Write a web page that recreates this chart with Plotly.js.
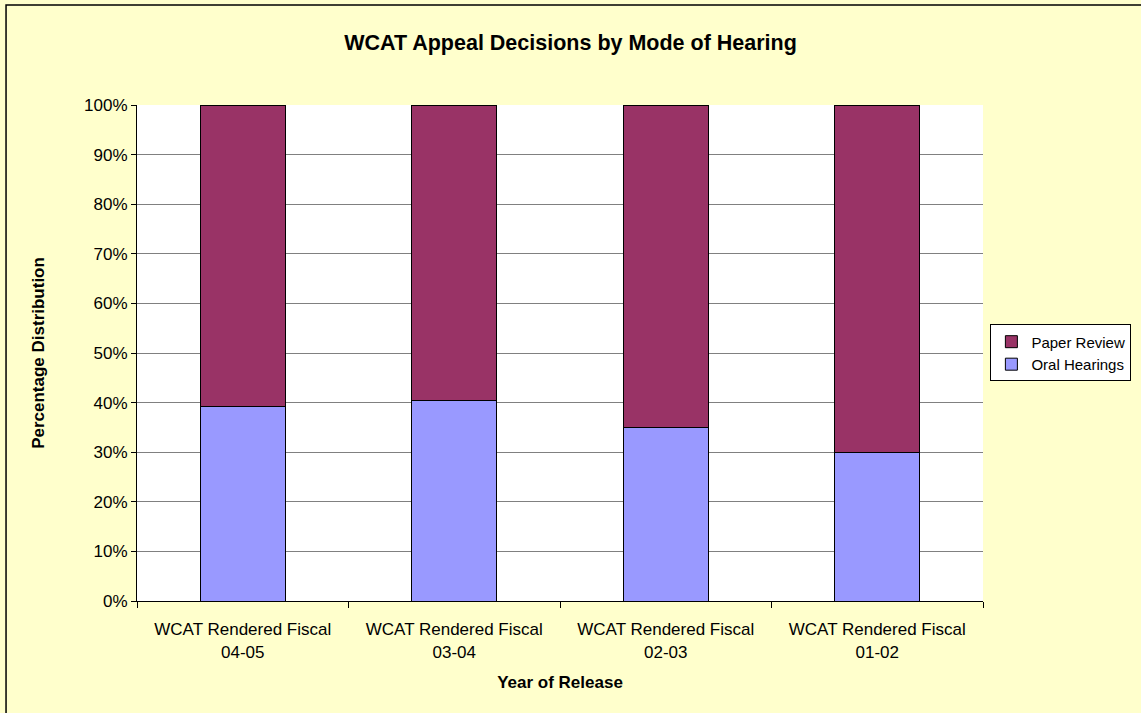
<!DOCTYPE html>
<html>
<head>
<meta charset="utf-8">
<script src="https://cdn.plot.ly/plotly-3.0.1.min.js"></script>
<style>
  body { margin: 0; background: #FFFFCC; }
  #chart { width: 1141px; height: 713px; }
</style>
</head>
<body>
<div id="chart"></div>
<script>
// categories and values (percent)
var years = ["WCAT Rendered Fiscal<br>04-05", "WCAT Rendered Fiscal<br>03-04",
             "WCAT Rendered Fiscal<br>02-03", "WCAT Rendered Fiscal<br>01-02"];
var oralHearings = [39.3, 40.4, 35.0, 30.0];
var paperReview = [60.7, 59.6, 65.0, 70.0];

var trace1 = {
  x: years,
  y: oralHearings,
  name: "Oral Hearings",
  type: "bar",
  marker: {color: "#9999FF", line: {color: "#000000", width: 1}},
  hoverinfo: "y+name"
};

var trace2 = {
  x: years,
  y: paperReview,
  name: "Paper Review",
  type: "bar",
  marker: {color: "#993366", line: {color: "#000000", width: 1}},
  hoverinfo: "y+name"
};

var layout = {
  width: 1141,
  height: 713,
  barmode: "stack",
  bargap: 0.6,
  paper_bgcolor: "#FFFFCC",
  plot_bgcolor: "#FFFFFF",
  font: {family: "Arial, Liberation Sans, sans-serif", size: 17, color: "#000000"},
  title: {
    text: "<b>WCAT Appeal Decisions by Mode of Hearing</b>",
    font: {size: 21.5},
    x: 0.5, xanchor: "center",
    y: 0.94, yanchor: "middle"
  },
  margin: {l: 137, r: 158, t: 105, b: 112},
  xaxis: {
    title: {text: "<b>Year of Release</b>", font: {size: 17}, standoff: 15},
    tickson: "boundaries",
    ticks: "outside",
    ticklen: 6,
    tickcolor: "#000000",
    ticklabelstandoff: 13,
    showline: true,
    linecolor: "#000000",
    linewidth: 1,
    showgrid: false,
    tickfont: {size: 17}
  },
  yaxis: {
    title: {text: "<b>Percentage Distribution</b>", font: {size: 17}, standoff: 35},
    range: [0, 100],
    dtick: 10,
    ticksuffix: "%",
    ticks: "outside",
    ticklen: 5,
    tickcolor: "#000000",
    showline: true,
    linecolor: "#000000",
    linewidth: 1,
    gridcolor: "#808080",
    gridwidth: 1,
    zeroline: false,
    tickfont: {size: 17}
  },
  legend: {
    xref: "container", yref: "container",
    x: 0.868, xanchor: "left",
    y: 0.505, yanchor: "middle",
    bgcolor: "#FFFFFF",
    bordercolor: "#000000",
    borderwidth: 1,
    font: {size: 15},
    itemwidth: 30,
    traceorder: "reversed"
  },
  shapes: [{
    type: "rect", xref: "paper", yref: "paper",
    x0: -0.1548, x1: 1.19, y0: -0.25, y1: 1.2016,
    line: {color: "#000000", width: 1.5}
  }]
};

Plotly.newPlot("chart", [trace1, trace2], layout, {displayModeBar: false});
</script>
</body>
</html>
